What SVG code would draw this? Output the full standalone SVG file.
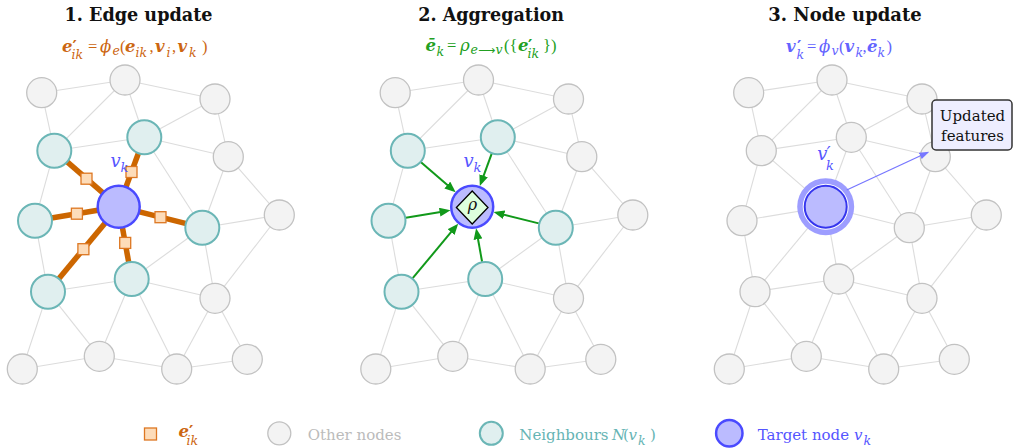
<svg xmlns="http://www.w3.org/2000/svg" xmlns:xlink="http://www.w3.org/1999/xlink" width="1013" height="448" viewBox="0 0 1013 448">
  <style>
    .edge { stroke: #dcdcdc; stroke-width: 1.1; fill: none; }
    .other { fill: #f3f3f3; stroke: #c2c2c2; stroke-width: 1.3; }
    .nbr { fill: #e0efef; stroke: #6bb6b6; stroke-width: 2; }
    .tgt { fill: #bbbbff; stroke: #4a4aff; stroke-width: 2.5; }
    .msg { stroke: #cc6600; stroke-width: 5.5; stroke-linecap: butt; }
    .sq { fill: #fddcb9; stroke: #dd7722; stroke-width: 1.3; }
    .agg { stroke: #11991a; stroke-width: 2; fill: none; }
    .upd { stroke: #7777ff; stroke-width: 1.3; fill: none; }
    text { font-family: "DejaVu Serif", "Liberation Serif", serif; }
    .title { font-weight: bold; font-size: 18px; fill: #111; }
    .f { font-size: 16.5px; }
    .bi { font-weight: bold; font-style: italic; }
    .b { font-weight: bold; }
    .it { font-style: italic; }
    .p { font-family: "Liberation Serif", serif; font-size: 16.5px; }
    .sub { font-size: 12.5px; font-style: italic; }
    .lbl { font-size: 18px; font-style: italic; fill: #5555ff; }
    .lsub { font-size: 13px; font-style: italic; fill: #5555ff; }
    .leg { font-size: 15px; }
  </style>
  <defs>
    <marker id="arrow-green" markerUnits="userSpaceOnUse" markerWidth="11" markerHeight="9" refX="7" refY="4.5" orient="auto">
      <path d="M0,0 L11,4.5 L0,9 z" fill="#11991a"/>
    </marker>
    <marker id="arrow-blue" markerUnits="userSpaceOnUse" markerWidth="10" markerHeight="7" refX="8" refY="3.5" orient="auto">
      <path d="M0,0 L10,3.5 L0,7 z" fill="#7777ff"/>
    </marker>
    <!-- shared mesh of graph edges (all panels) -->
    <g id="mesh" class="edge">
      <line x1="41.7" y1="92.7" x2="125" y2="80"/>
      <line x1="41.7" y1="92.7" x2="54.3" y2="150.7"/>
      <line x1="125" y1="80" x2="215" y2="99"/>
      <line x1="125" y1="80" x2="54.3" y2="150.7"/>
      <line x1="125" y1="80" x2="144.3" y2="137.3"/>
      <line x1="215" y1="99" x2="144.3" y2="137.3"/>
      <line x1="215" y1="99" x2="228.3" y2="156.7"/>
      <line x1="54.3" y1="150.7" x2="144.3" y2="137.3"/>
      <line x1="144.3" y1="137.3" x2="228.3" y2="156.7"/>
      <line x1="144.3" y1="137.3" x2="202.3" y2="227.7"/>
      <line x1="228.3" y1="156.7" x2="279.3" y2="215"/>
      <line x1="228.3" y1="156.7" x2="202.3" y2="227.7"/>
      <line x1="54.3" y1="150.7" x2="35" y2="220.7"/>
      <line x1="35" y1="220.7" x2="48" y2="291.7"/>
      <line x1="202.3" y1="227.7" x2="131.7" y2="279"/>
      <line x1="202.3" y1="227.7" x2="215" y2="298.3"/>
      <line x1="279.3" y1="215" x2="202.3" y2="227.7"/>
      <line x1="279.3" y1="215" x2="215" y2="298.3"/>
      <line x1="48" y1="291.7" x2="131.7" y2="279"/>
      <line x1="131.7" y1="279" x2="215" y2="298.3"/>
      <line x1="48" y1="291.7" x2="22.3" y2="369"/>
      <line x1="48" y1="291.7" x2="99.3" y2="356.3"/>
      <line x1="131.7" y1="279" x2="99.3" y2="356.3"/>
      <line x1="131.7" y1="279" x2="176.7" y2="369"/>
      <line x1="215" y1="298.3" x2="176.7" y2="369"/>
      <line x1="215" y1="298.3" x2="247.3" y2="359.3"/>
      <line x1="22.3" y1="369" x2="99.3" y2="356.3"/>
      <line x1="99.3" y1="356.3" x2="176.7" y2="369"/>
      <line x1="176.7" y1="369" x2="247.3" y2="359.3"/>
    </g>
  </defs>

  <!-- ============ Panel 1: edge update ============ -->
  <text class="title" x="64.5" y="21" textLength="148" lengthAdjust="spacingAndGlyphs">1. Edge update</text>
  <text class="f" y="51.7" fill="#cc6611"><tspan class="bi" x="62">e</tspan><tspan class="b" x="72.5">′</tspan><tspan class="sub" x="71.5" y="58.8">ik</tspan><tspan class="p" x="88" y="51.7">=</tspan><tspan class="it" x="100">ϕ</tspan><tspan class="sub" x="112.5" y="54.5">e</tspan><tspan class="p" x="120" y="51.7">(</tspan><tspan class="bi" x="125">e</tspan><tspan class="sub" x="135.5" y="57">ik</tspan><tspan class="p" x="149.5" y="51.7">,</tspan><tspan class="bi" x="155">v</tspan><tspan class="sub" x="166.5" y="57">i</tspan><tspan class="p" x="172" y="51.7">,</tspan><tspan class="bi" x="177.5">v</tspan><tspan class="sub" x="189" y="57">k</tspan><tspan class="p" x="202" y="51.7">)</tspan></text>

  <g id="panel1">
    <g id="p1-connectors">
      <use href="#mesh" xlink:href="#mesh"/>
      <g class="msg">
        <line x1="54.3" y1="150.7" x2="118.7" y2="206.7"/>
        <line x1="144.3" y1="137.3" x2="118.7" y2="206.7"/>
        <line x1="35" y1="220.7" x2="118.7" y2="206.7"/>
        <line x1="202.3" y1="227.7" x2="118.7" y2="206.7"/>
        <line x1="48" y1="291.7" x2="118.7" y2="206.7"/>
        <line x1="131.7" y1="279" x2="118.7" y2="206.7"/>
      </g>
      <g class="sq">
        <rect x="81" y="173.2" width="11" height="11"/>
        <rect x="126" y="166.5" width="11" height="11"/>
        <rect x="71.4" y="208.2" width="11" height="11"/>
        <rect x="155" y="211.7" width="11" height="11"/>
        <rect x="77.9" y="243.7" width="11" height="11"/>
        <rect x="119.7" y="237.4" width="11" height="11"/>
      </g>
    </g>
    <g id="p1-a"><circle class="other" cx="41.7" cy="92.7" r="15"/></g>
    <g id="p1-b"><circle class="other" cx="125" cy="80" r="15"/></g>
    <g id="p1-c"><circle class="other" cx="215" cy="99" r="15"/></g>
    <g id="p1-d"><circle class="nbr" cx="54.3" cy="150.7" r="17"/></g>
    <g id="p1-e"><circle class="nbr" cx="144.3" cy="137.3" r="17"/></g>
    <g id="p1-f"><circle class="other" cx="228.3" cy="156.7" r="15"/></g>
    <g id="p1-g"><circle class="other" cx="279.3" cy="215" r="15"/></g>
    <g id="p1-h"><circle class="nbr" cx="35" cy="220.7" r="17"/></g>
    <g id="p1-i"><circle class="nbr" cx="202.3" cy="227.7" r="17"/></g>
    <g id="p1-j"><circle class="nbr" cx="48" cy="291.7" r="17"/></g>
    <g id="p1-k"><circle class="nbr" cx="131.7" cy="279" r="17"/></g>
    <g id="p1-l"><circle class="other" cx="215" cy="298.3" r="15"/></g>
    <g id="p1-m"><circle class="other" cx="22.3" cy="369" r="15"/></g>
    <g id="p1-n"><circle class="other" cx="99.3" cy="356.3" r="15"/></g>
    <g id="p1-o"><circle class="other" cx="176.7" cy="369" r="15"/></g>
    <g id="p1-p"><circle class="other" cx="247.3" cy="359.3" r="15"/></g>
    <g id="p1-target">
      <circle class="tgt" cx="118.7" cy="206.7" r="21"/>
      <text class="lbl" x="110.5" y="166.5">v</text><text class="lsub" x="120.5" y="171.5">k</text>
    </g>
  </g>

  <!-- ============ Panel 2: aggregation ============ -->
  <text class="title" x="418.3" y="21" textLength="145.7" lengthAdjust="spacingAndGlyphs">2. Aggregation</text>
  <text class="f" y="50.7" fill="#22a022"><tspan class="bi" x="425.5">ē</tspan><tspan class="sub" x="436.5" y="56">k</tspan><tspan class="p" x="447" y="50.7">=</tspan><tspan class="it" x="460">ρ</tspan><tspan class="sub" x="470.5" y="53.5">e</tspan><tspan x="478" y="53.5" style="font-family:'DejaVu Sans',sans-serif;font-size:12px;font-style:normal">⟶</tspan><tspan class="sub" x="495.5" y="53.5">v</tspan><tspan class="p" x="504" y="50.7">({</tspan><tspan class="bi" x="518">e</tspan><tspan class="b" x="528">′</tspan><tspan class="sub" x="527.5" y="58.3">ik</tspan><tspan class="p" x="543" y="50.7">})</tspan></text>

  <g id="panel2" transform="translate(353.5,0)">
    <g id="p2-connectors">
      <use href="#mesh" xlink:href="#mesh"/>
      <g class="agg" marker-end="url(#arrow-green)">
        <line x1="67.5" y1="162.2" x2="99.1" y2="189.6"/>
        <line x1="138.2" y1="153.7" x2="127.7" y2="182.3"/>
        <line x1="52.3" y1="217.8" x2="93.1" y2="211"/>
        <line x1="185.3" y1="223.4" x2="143.9" y2="213"/>
        <line x1="59.2" y1="278.2" x2="102.1" y2="226.7"/>
        <line x1="128.6" y1="261.8" x2="123.3" y2="232.3"/>
      </g>
    </g>
    <g id="p2-a"><circle class="other" cx="41.7" cy="92.7" r="15"/></g>
    <g id="p2-b"><circle class="other" cx="125" cy="80" r="15"/></g>
    <g id="p2-c"><circle class="other" cx="215" cy="99" r="15"/></g>
    <g id="p2-d"><circle class="nbr" cx="54.3" cy="150.7" r="17"/></g>
    <g id="p2-e"><circle class="nbr" cx="144.3" cy="137.3" r="17"/></g>
    <g id="p2-f"><circle class="other" cx="228.3" cy="156.7" r="15"/></g>
    <g id="p2-g"><circle class="other" cx="279.3" cy="215" r="15"/></g>
    <g id="p2-h"><circle class="nbr" cx="35" cy="220.7" r="17"/></g>
    <g id="p2-i"><circle class="nbr" cx="202.3" cy="227.7" r="17"/></g>
    <g id="p2-j"><circle class="nbr" cx="48" cy="291.7" r="17"/></g>
    <g id="p2-k"><circle class="nbr" cx="131.7" cy="279" r="17"/></g>
    <g id="p2-l"><circle class="other" cx="215" cy="298.3" r="15"/></g>
    <g id="p2-m"><circle class="other" cx="22.3" cy="369" r="15"/></g>
    <g id="p2-n"><circle class="other" cx="99.3" cy="356.3" r="15"/></g>
    <g id="p2-o"><circle class="other" cx="176.7" cy="369" r="15"/></g>
    <g id="p2-p"><circle class="other" cx="247.3" cy="359.3" r="15"/></g>
    <g id="p2-target">
      <circle class="tgt" cx="118.7" cy="206.7" r="21"/>
      <path d="M118.7,191 L134.5,207.5 L118.7,224 L102.9,207.5 z" fill="#ddffdd" stroke="#000" stroke-width="1.3"/>
      <text x="119" y="210" font-size="16" font-style="italic" text-anchor="middle" fill="#111">ρ</text>
      <text class="lbl" x="110" y="166.5">v</text><text class="lsub" x="120" y="171.5">k</text>
    </g>
  </g>

  <!-- ============ Panel 3: node update ============ -->
  <text class="title" x="768.3" y="21" textLength="153.4" lengthAdjust="spacingAndGlyphs">3. Node update</text>
  <text class="f" y="51.7" fill="#6363ff"><tspan class="bi" x="786">v</tspan><tspan class="b" x="797">′</tspan><tspan class="sub" x="796.5" y="58.8">k</tspan><tspan class="p" x="807" y="51.7">=</tspan><tspan class="it" x="819">ϕ</tspan><tspan class="sub" x="831.5" y="54.5">v</tspan><tspan class="p" x="839" y="51.7">(</tspan><tspan class="bi" x="844.5">v</tspan><tspan class="sub" x="855.5" y="57">k</tspan><tspan class="p" x="862.5" y="51.7">,</tspan><tspan class="bi" x="867">ē</tspan><tspan class="sub" x="877.5" y="57">k</tspan><tspan class="p" x="886.5" y="51.7">)</tspan></text>

  <g id="panel3" transform="translate(707,0)">
    <g id="p3-connectors">
      <use href="#mesh" xlink:href="#mesh"/>
      <g class="edge">
        <line x1="54.3" y1="150.7" x2="118.7" y2="206.7"/>
        <line x1="144.3" y1="137.3" x2="118.7" y2="206.7"/>
        <line x1="35" y1="220.7" x2="118.7" y2="206.7"/>
        <line x1="202.3" y1="227.7" x2="118.7" y2="206.7"/>
        <line x1="48" y1="291.7" x2="118.7" y2="206.7"/>
        <line x1="131.7" y1="279" x2="118.7" y2="206.7"/>
      </g>
    </g>
    <g id="p3-a"><circle class="other" cx="41.7" cy="92.7" r="15"/></g>
    <g id="p3-b"><circle class="other" cx="125" cy="80" r="15"/></g>
    <g id="p3-c"><circle class="other" cx="215" cy="99" r="15"/></g>
    <g id="p3-d"><circle class="other" cx="54.3" cy="150.7" r="15"/></g>
    <g id="p3-e"><circle class="other" cx="144.3" cy="137.3" r="15"/></g>
    <g id="p3-f"><circle class="other" cx="228.3" cy="156.7" r="15"/></g>
    <g id="p3-g"><circle class="other" cx="279.3" cy="215" r="15"/></g>
    <g id="p3-h"><circle class="other" cx="35" cy="220.7" r="15"/></g>
    <g id="p3-i"><circle class="other" cx="202.3" cy="227.7" r="15"/></g>
    <g id="p3-j"><circle class="other" cx="48" cy="291.7" r="15"/></g>
    <g id="p3-k"><circle class="other" cx="131.7" cy="279" r="15"/></g>
    <g id="p3-l"><circle class="other" cx="215" cy="298.3" r="15"/></g>
    <g id="p3-m"><circle class="other" cx="22.3" cy="369" r="15"/></g>
    <g id="p3-n"><circle class="other" cx="99.3" cy="356.3" r="15"/></g>
    <g id="p3-o"><circle class="other" cx="176.7" cy="369" r="15"/></g>
    <g id="p3-p"><circle class="other" cx="247.3" cy="359.3" r="15"/></g>
    <g id="p3-target">
      <circle cx="118.7" cy="206.7" r="28.5" fill="#9d9dff"/>
      <circle cx="118.7" cy="206.7" r="23" fill="#ffffff"/>
      <circle cx="118.7" cy="206.7" r="21" fill="#bbbbff" stroke="#3535ee" stroke-width="2"/>
      <text class="lbl" x="110.3" y="160">v</text><text class="lbl" x="119.5" y="160">′</text><text class="lsub" x="119" y="170">k</text>
    </g>
    <g id="p3-update-arrow">
      <line class="upd" x1="139.7" y1="190" x2="220.5" y2="152.5" marker-end="url(#arrow-blue)"/>
    </g>
  </g>

  <g id="updated-features">
    <rect x="932" y="100" width="80" height="50" rx="4" fill="#eeeeff" stroke="#333" stroke-width="1.5"/>
    <text x="972.5" y="121" font-size="15" text-anchor="middle" fill="#111">Updated</text>
    <text x="972.5" y="140.7" font-size="15" text-anchor="middle" fill="#111">features</text>
  </g>

  <!-- ============ Legend ============ -->
  <g id="legend">
    <g id="legend-msg">
      <rect class="sq" x="144.5" y="428" width="12" height="12"/>
      <text class="f" y="437" fill="#cc6611"><tspan class="bi" x="178.5">e</tspan><tspan class="b" x="189">′</tspan><tspan class="sub" x="186.5" y="444.5">ik</tspan></text>
    </g>
    <g id="legend-other">
      <circle class="other" cx="279.3" cy="433.3" r="11.5"/>
      <text class="leg" x="307.7" y="440" fill="#bbbbbb">Other nodes</text>
    </g>
    <g id="legend-nbr">
      <circle class="nbr" cx="491.3" cy="433.3" r="11.5"/>
      <text class="leg" y="440" fill="#66b4b4"><tspan x="519.3">Neighbours</tspan><tspan class="it" x="612">N</tspan><tspan x="623">(</tspan><tspan class="it" x="628.5">v</tspan><tspan class="sub" x="638" y="444.5">k</tspan><tspan x="650" y="440">)</tspan></text>
    </g>
    <g id="legend-target">
      <circle class="tgt" cx="729.3" cy="433.3" r="13.2"/>
      <text class="leg" y="440" fill="#5555ff"><tspan x="757.7">Target node</tspan><tspan class="it" x="854">v</tspan><tspan class="sub" x="863.5" y="444.5">k</tspan></text>
    </g>
  </g>
</svg>
